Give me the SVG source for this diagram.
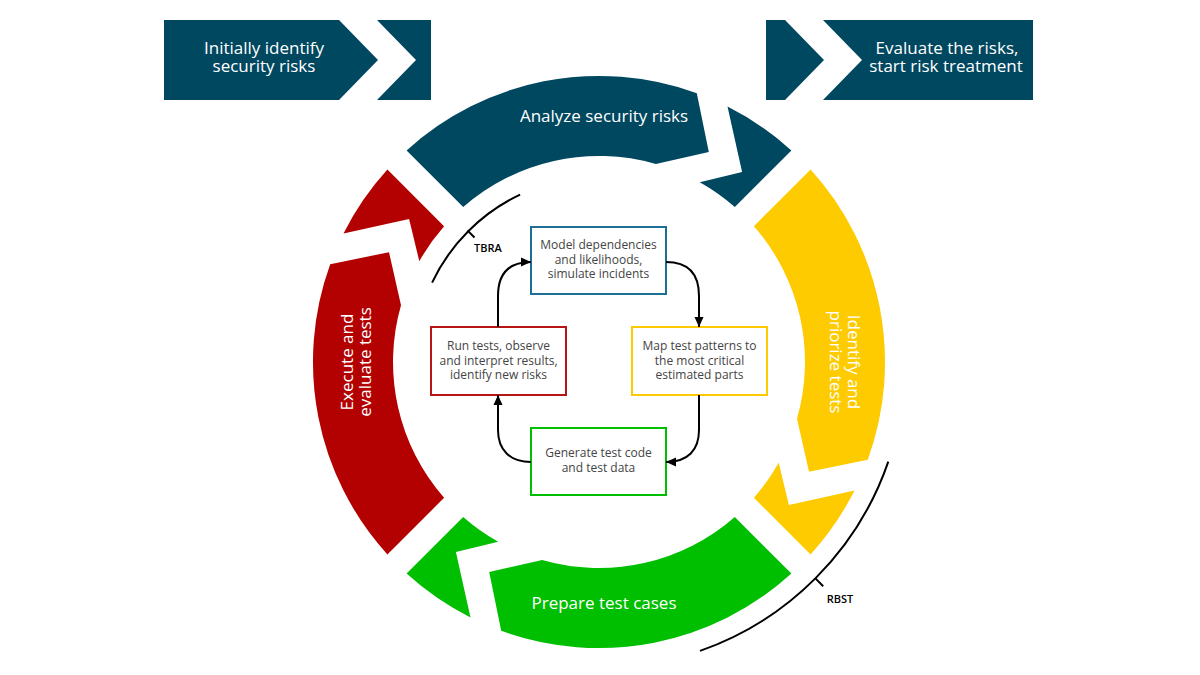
<svg xmlns="http://www.w3.org/2000/svg" width="1200" height="675" viewBox="0 0 1200 675">
<style>
.big{font-family:"Open Sans","Noto Sans","Liberation Sans",sans-serif;font-size:17px;fill:#ffffff;text-anchor:middle}
.box{fill:#ffffff;stroke-width:2}
.bt{font-family:"Open Sans","Noto Sans","Liberation Sans",sans-serif;font-size:12px;fill:#444444;text-anchor:middle}
.lbl{font-family:"Open Sans","Noto Sans","Liberation Sans",sans-serif;font-size:11px;font-weight:600;fill:#000000;text-anchor:middle}
.con{fill:none;stroke:#000000;stroke-width:2}
.brk{fill:none;stroke:#000000;stroke-width:2}
</style>
<defs>
<path id="body" d="M406.6,150.4 A286,286 0 0 1 696.8,93.2 L708.8,152 L655.8,164 A206,206 0 0 0 463.2,207.1 Z"/>
<path id="head" d="M727.5,106.5 L742.1,172.1 L699.8,182.3 A206,206 0 0 1 734.8,207.1 L791.4,150.4 A286,286 0 0 0 727.5,106.5 Z"/>
<marker id="ah" viewBox="0 0 10 10" refX="10" refY="5" markerWidth="10" markerHeight="10" markerUnits="userSpaceOnUse" orient="auto">
<path d="M0,0.5 L10,5 L0,9.5 Z" fill="#000000"/>
</marker>
</defs>
<rect width="1200" height="675" fill="#ffffff"/>

<g id="initially">
<path d="M164,20 H339 L378,60 L339,100 H164 Z" fill="#004760"/>
<path d="M377,20 H431 V100 H377 L416,60 Z" fill="#004760"/>
<text class="big" x="264" y="54">Initially identify</text>
<text class="big" x="264" y="72">security risks</text>
</g>

<g id="evaluate">
<path d="M766,20 H785 L824,60 L785,100 H766 Z" fill="#004760"/>
<path d="M823,20 H1033 V100 H823 L862,60 Z" fill="#004760"/>
<text class="big" x="947" y="54">Evaluate the risks,</text>
<text class="big" x="946" y="72">start risk treatment</text>
</g>

<g id="analyze">
<use href="#body" fill="#004760"/>
<use href="#head" fill="#004760"/>
<text class="big" x="604" y="122">Analyze security risks</text>
</g>

<g id="identify">
<use href="#body" fill="#fecb00" transform="rotate(90 599 362)"/>
<use href="#head" fill="#fecb00" transform="rotate(90 599 362)"/>
<text class="big" transform="translate(843,362) rotate(90)"><tspan x="0" y="-5">Identify and</tspan><tspan x="0" y="13">priorize tests</tspan></text>
</g>

<g id="prepare">
<use href="#body" fill="#00be00" transform="rotate(180 599 362)"/>
<use href="#head" fill="#00be00" transform="rotate(180 599 362)"/>
<text class="big" x="604" y="609">Prepare test cases</text>
</g>

<g id="execute">
<use href="#body" fill="#b30000" transform="rotate(270 599 362)"/>
<use href="#head" fill="#b30000" transform="rotate(270 599 362)"/>
<text class="big" transform="translate(356,362) rotate(-90)"><tspan x="0" y="-3">Execute and</tspan><tspan x="0" y="15">evaluate tests</tspan></text>
</g>

<g id="tbra">
<path class="brk" d="M432.1,282.6 A185,185 0 0 1 520.1,194.6"/>
<path class="brk" d="M467.5,230.5 L474.5,237.5"/>
<text class="lbl" x="488" y="252">TBRA</text>
</g>

<g id="rbst">
<path class="brk" d="M888.3,461.6 A306,306 0 0 1 700.0,650.9"/>
<path class="brk" d="M815.4,578.4 L823.2,586.2"/>
<text class="lbl" x="840" y="603">RBST</text>
</g>

<g id="model">
<rect class="box" x="531" y="227" width="135" height="67" stroke="#1d6f95"/>
<text class="bt" x="598.5" y="249">Model dependencies</text>
<text class="bt" x="598.5" y="263.5">and likelihoods,</text>
<text class="bt" x="598.5" y="278">simulate incidents</text>
</g>

<g id="map">
<rect class="box" x="632" y="327" width="135" height="68" stroke="#fecb00"/>
<text class="bt" x="699.5" y="350">Map test patterns to</text>
<text class="bt" x="699.5" y="364.5">the most critical</text>
<text class="bt" x="699.5" y="379">estimated parts</text>
</g>

<g id="generate">
<rect class="box" x="531" y="428" width="135" height="67" stroke="#00be00"/>
<text class="bt" x="598.5" y="457">Generate test code</text>
<text class="bt" x="598.5" y="471.5">and test data</text>
</g>

<g id="run">
<rect class="box" x="431" y="327" width="135" height="68" stroke="#b81414"/>
<text class="bt" x="498.5" y="350">Run tests, observe</text>
<text class="bt" x="498.5" y="364.5">and interpret results,</text>
<text class="bt" x="498.5" y="379">identify new risks</text>
</g>

<g id="connectors">
<path class="con" d="M666,262 C688,262 699,274 699,296 V327" marker-end="url(#ah)"/>
<path class="con" d="M699,395 V430 C699,450 688,462 666,462" marker-end="url(#ah)"/>
<path class="con" d="M531,462 C510,462 498,450 498,430 V395" marker-end="url(#ah)"/>
<path class="con" d="M498,327 V296 C498,274 509,262 531,262" marker-end="url(#ah)"/>
</g>
</svg>
